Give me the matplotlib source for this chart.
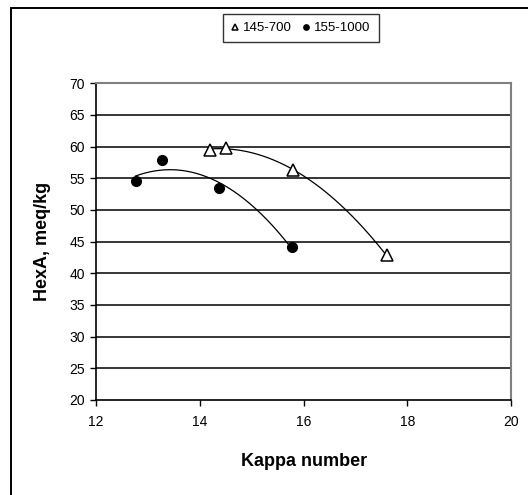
import matplotlib
matplotlib.use('Agg')
import matplotlib.pyplot as plt
import numpy as np
from matplotlib.patches import Rectangle

plt.rcParams['font.family'] = ['Liberation Sans', 'DejaVu Sans']

# Data
kappa_145 = [14.2, 14.5, 15.8, 17.6]
hexa_145  = [59.5, 59.8, 56.3, 42.8]
kappa_155 = [12.76, 13.28, 14.36, 15.77]
hexa_155  = [54.5, 57.8, 53.5, 44.1]
labels    = ['145-700', '155-1000']

xticks = [12, 14, 16, 18, 20]
yticks = [20, 25, 30, 35, 40, 45, 50, 55, 60, 65, 70]

fig = plt.figure(figsize=(5.28, 4.95), dpi=100)
ax = fig.add_axes([0.182, 0.192, 0.786, 0.640])

# outer chart frame (only left/top visible)
fig.patches.append(Rectangle((11/528., -0.1), 1.2, 1.1 - 8/495.,
                             transform=fig.transFigure, fill=False,
                             edgecolor='black', lw=1.4))

for yv in yticks[1:-1]:
    ax.axhline(yv, color='black', lw=1.1, zorder=1)

# second-order trendlines like the spreadsheet
for kx, hy in [(kappa_145, hexa_145), (kappa_155, hexa_155)]:
    c = np.polyfit(kx, hy, 2)
    xs = np.linspace(min(kx), max(kx), 200)
    ax.plot(xs, np.polyval(c, xs), color='black', lw=0.9, zorder=2)

h1, = ax.plot(kappa_145, hexa_145, linestyle='none', marker='^', ms=8.5,
              mfc='white', mec='black', mew=1.1, zorder=3)
h2, = ax.plot(kappa_155, hexa_155, linestyle='none', marker='o', ms=7,
              mfc='black', mec='black', zorder=3)

ax.set_xlim(12, 20)
ax.set_ylim(20, 70)
ax.set_xticks(xticks)
ax.set_yticks(yticks)
ax.tick_params(direction='out', length=4, width=1, labelsize=10)
ax.tick_params(axis='x', pad=7)
ax.tick_params(axis='y', pad=4)
ax.spines['left'].set_linewidth(1.2)
ax.spines['bottom'].set_linewidth(1.2)
ax.spines['top'].set_color('#808080')
ax.spines['right'].set_color('#808080')
ax.spines['top'].set_linewidth(1.5)
ax.spines['right'].set_linewidth(1.5)

ax.set_xlabel('Kappa number', fontsize=13, fontweight='bold', labelpad=17)
ax.set_ylabel('HexA, meq/kg', fontsize=13, fontweight='bold', labelpad=13)

leg = fig.legend([h1, h2], labels, loc='center', bbox_to_anchor=(0.57, 0.943),
                 ncol=2, fontsize=9.5, frameon=True, fancybox=False,
                 handlelength=0.6, handletextpad=0.3, columnspacing=0.8,
                 borderpad=0.6, markerscale=0.55)
leg.get_frame().set_edgecolor('black')
leg.get_frame().set_linewidth(1.0)

plt.savefig('out.png', dpi=100)
